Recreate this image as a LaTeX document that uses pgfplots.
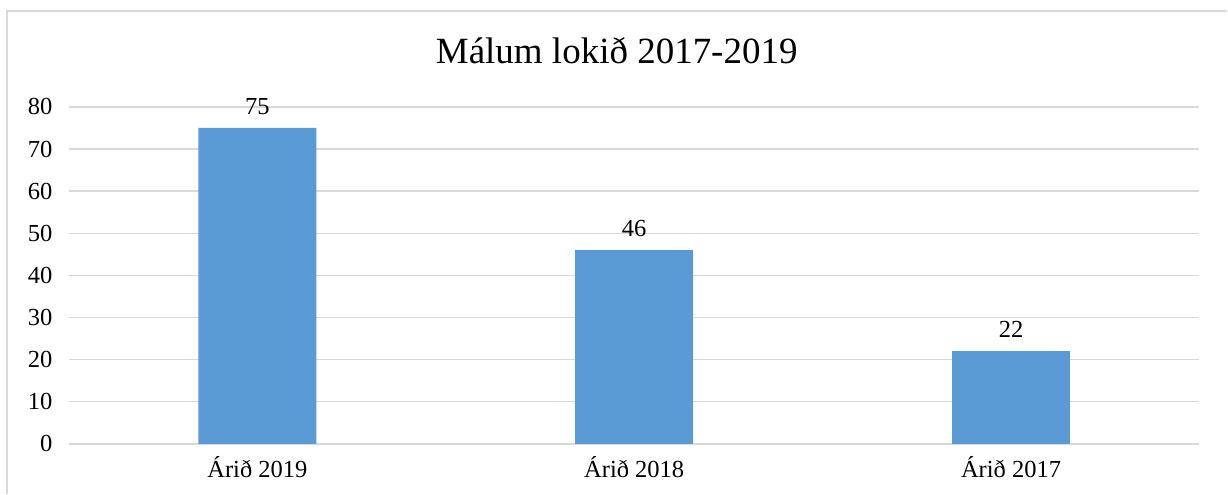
\documentclass[border=0pt]{standalone}
\usepackage{pgfplots}
\pgfplotsset{compat=1.18}
\usepackage{fontspec}
\setmainfont{Liberation Serif}
\definecolor{barblue}{HTML}{5B9BD5}
\definecolor{gridgray}{HTML}{D9D9D9}
\begin{document}
\begin{tikzpicture}[x=1pt,y=1pt]
\path (0,0) rectangle (1228,494);
\draw[gridgray, line width=1.2pt] (7,0) -- (7,483) -- (1228,483);
\begin{axis}[
  at={(69pt,50pt)}, anchor=south west,
  scale only axis, width=1131pt, height=337pt,
  ybar, bar width=118pt,
  xmin=-0.5, xmax=2.5, ymin=0, ymax=80,
  xtick=data, xticklabels={Árið 2019, Árið 2018, Árið 2017},
  ytick={0,10,...,80},
  ymajorgrids, grid style={gridgray, line width=1.5pt},
  axis line style={draw=none},
  major tick length=0pt,
  tick label style={font=\fontsize{24.5}{26}\selectfont},
  /pgf/number format/assume math mode=true,
  yticklabel style={xshift=-13pt},
  xticklabel style={yshift=-9pt},
  nodes near coords,
  every node near coord/.append style={font=\fontsize{24.5}{26}\selectfont, yshift=10pt},
  clip=false,
]
\addplot[fill=barblue, draw=none] coordinates {(0,75) (1,46) (2,22)};
\end{axis}
\node[font=\fontsize{37}{40}\selectfont] at (617,443) {Málum lokið 2017-2019};
\end{tikzpicture}
\end{document}
